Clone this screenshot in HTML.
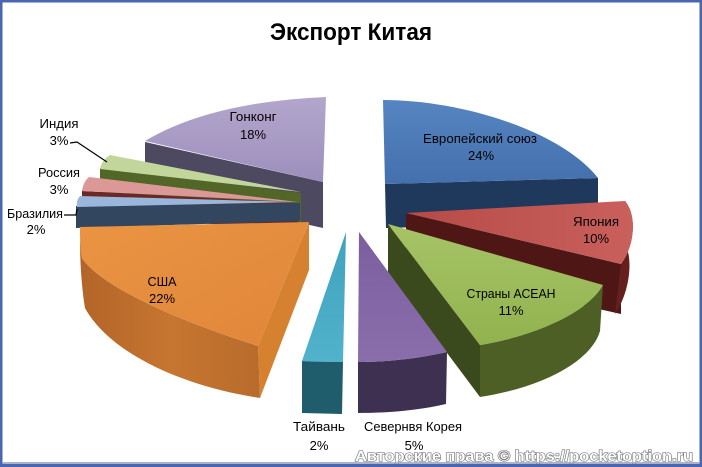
<!DOCTYPE html>
<html><head><meta charset="utf-8"><style>
html,body{margin:0;padding:0;background:#fff;}
svg{display:block;}
text{font-family:"Liberation Sans",sans-serif;}
</style></head><body>
<svg width="702" height="467" viewBox="0 0 702 467" xmlns="http://www.w3.org/2000/svg">
<defs>
<linearGradient id="gHK" x1="0" y1="0" x2="0" y2="1"><stop offset="0" stop-color="#b3a6cc"/><stop offset="1" stop-color="#9d8fbc"/></linearGradient>
<linearGradient id="gEU" x1="0" y1="0" x2="0" y2="1"><stop offset="0" stop-color="#5685c1"/><stop offset="1" stop-color="#4470ad"/></linearGradient>
<linearGradient id="gJP" x1="0" y1="0" x2="1" y2="0"><stop offset="0" stop-color="#b64a47"/><stop offset="1" stop-color="#c9605c"/></linearGradient>
<linearGradient id="gAS" x1="0" y1="0" x2="0" y2="1"><stop offset="0" stop-color="#a6c466"/><stop offset="1" stop-color="#92b24f"/></linearGradient>
<linearGradient id="gUS" x1="0" y1="0" x2="1" y2="1"><stop offset="0" stop-color="#ea9443"/><stop offset="1" stop-color="#e0863a"/></linearGradient>
<linearGradient id="gUSr" x1="0" y1="0" x2="1" y2="0"><stop offset="0" stop-color="#b36429"/><stop offset="0.5" stop-color="#c6762f"/><stop offset="1" stop-color="#b86b2c"/></linearGradient>
<linearGradient id="gNK" x1="0" y1="0" x2="0" y2="1"><stop offset="0" stop-color="#7a5e9e"/><stop offset="1" stop-color="#8a6eac"/></linearGradient>
<linearGradient id="gTW" x1="0" y1="0" x2="0" y2="1"><stop offset="0" stop-color="#3fa2bd"/><stop offset="1" stop-color="#52b2cb"/></linearGradient>
</defs>
<rect x="0" y="0" width="702" height="467" fill="#fff"/>

<!-- Hong Kong -->
<polygon points="145,142 323,182 323,228 145,188" fill="#4c4960"/>
<path d="M323,182 L145,141 Q210,102 326,97 Z" fill="url(#gHK)"/>

<!-- India -->
<polygon points="100,168 301,193 301,232 100,205" fill="#526628"/>
<path d="M301,192 L110,155 Q102,160 100,169 Z" fill="#c2d59b"/>

<!-- Russia -->
<polygon points="82,191 298,203 298,232 82,212" fill="#6a2827"/>
<path d="M298,202 L89,177 Q83,182 82,191 Z" fill="#dc9896"/>

<!-- Brazil -->
<polygon points="76,206 300,203 300,221 76,228" fill="#33465f"/>
<path d="M298,202 L80,196 Q76,200 77,207 Z" fill="#9bb6dc"/>

<!-- USA -->
<polygon points="309,222 309,270 260,398 258,346" fill="#d5812f"/>
<path d="M80,240 L82,258 C100,285 170,318 258,346 L260,398 C175,385 108,350 85,308 C82,290 80,265 80,240 Z" fill="url(#gUSr)"/>
<path d="M309,222 L80,227 C80,240 80,250 82,258 C100,285 170,318 258,346 Z" fill="url(#gUS)"/>

<!-- Europe -->
<polygon points="385,184 598,178 598,222 386,228" fill="#1f395d"/>
<path d="M385,184 L383,100 C460,100 560,130 598,178 Z" fill="url(#gEU)"/>

<!-- Japan -->
<polygon points="406,213 621,264 621,314 406,266" fill="#4e1716"/>
<path d="M625,201 C637,215 635,245 621,264 L615,314 C628,295 632,268 628,252 Z" fill="#65201e"/>
<path d="M406,213 L625,201 C637,215 635,245 621,264 Z" fill="url(#gJP)"/>

<!-- ASEAN -->
<polygon points="388,224 480,345 480,397 388,274" fill="#3b4a1c"/>
<path d="M603,285 C590,310 540,335 480,345 L480,397 C545,387 592,360 600,331 Z" fill="#4d5f25"/>
<path d="M388,224 L603,285 C590,310 540,335 480,345 Z" fill="url(#gAS)"/>

<!-- Taiwan -->
<polygon points="302,361 343,362 342,414 302,413" fill="#1f5d6d"/>
<path d="M346,232 L343,362 C330,362 315,362 302,361 Z" fill="url(#gTW)"/>

<!-- North Korea -->
<path d="M358,362 C390,362 420,358 447,352 L446,404 C420,410 390,413 358,413 Z" fill="#3e3050"/>
<path d="M359,232 L447,352 C420,358 390,362 358,362 Z" fill="url(#gNK)"/>

<!-- leader lines -->
<polyline points="70,143 77,142 107,162" fill="none" stroke="#000" stroke-width="1.2"/>
<polyline points="64,215 76,215 77,209" fill="none" stroke="#000" stroke-width="1.2"/>

<!-- Title -->
<text x="351" y="40" font-size="24" font-weight="bold" text-anchor="middle" textLength="162" lengthAdjust="spacingAndGlyphs" fill="#000">Экспорт Китая</text>

<!-- Labels -->
<g font-size="13" fill="#000" text-anchor="middle">
<text x="480" y="143" textLength="114" lengthAdjust="spacingAndGlyphs">Европейский союз</text>
<text x="481" y="160">24%</text>
<text x="596" y="226" textLength="46" lengthAdjust="spacingAndGlyphs">Япония</text>
<text x="596" y="243">10%</text>
<text x="511" y="298" textLength="89" lengthAdjust="spacingAndGlyphs">Страны АСЕАН</text>
<text x="511" y="315">11%</text>
<text x="162" y="286" textLength="29" lengthAdjust="spacingAndGlyphs">США</text>
<text x="162" y="303">22%</text>
<text x="319" y="431" textLength="52" lengthAdjust="spacingAndGlyphs">Тайвань</text>
<text x="319" y="450">2%</text>
<text x="413" y="431" textLength="98" lengthAdjust="spacingAndGlyphs">Севернвя Корея</text>
<text x="414" y="450">5%</text>
<text x="253" y="121" textLength="47" lengthAdjust="spacingAndGlyphs">Гонконг</text>
<text x="253" y="139">18%</text>
<text x="59" y="128" textLength="39" lengthAdjust="spacingAndGlyphs">Индия</text>
<text x="59" y="145">3%</text>
<text x="59" y="177" textLength="42" lengthAdjust="spacingAndGlyphs">Россия</text>
<text x="59" y="194">3%</text>
<text x="35" y="218" textLength="56" lengthAdjust="spacingAndGlyphs">Бразилия</text>
<text x="36" y="234">2%</text>
</g>

<!-- Watermark -->
<text x="355" y="461" font-size="15" font-weight="bold" textLength="338" lengthAdjust="spacingAndGlyphs" fill="#fff" stroke="#7d7d7d" stroke-width="1.3" paint-order="stroke">Авторские права © https://pocketoption.ru</text>

<!-- Border -->
<line x1="3" y1="462.5" x2="699" y2="462.5" stroke="#b4b4b4" stroke-width="1"/>
<rect x="1.25" y="1.25" width="699.5" height="464.5" fill="none" stroke="#4a66b3" stroke-width="2.5"/>
<rect x="0" y="463.5" width="702" height="3.5" fill="#4a66b3"/>
</svg>
</body></html>
